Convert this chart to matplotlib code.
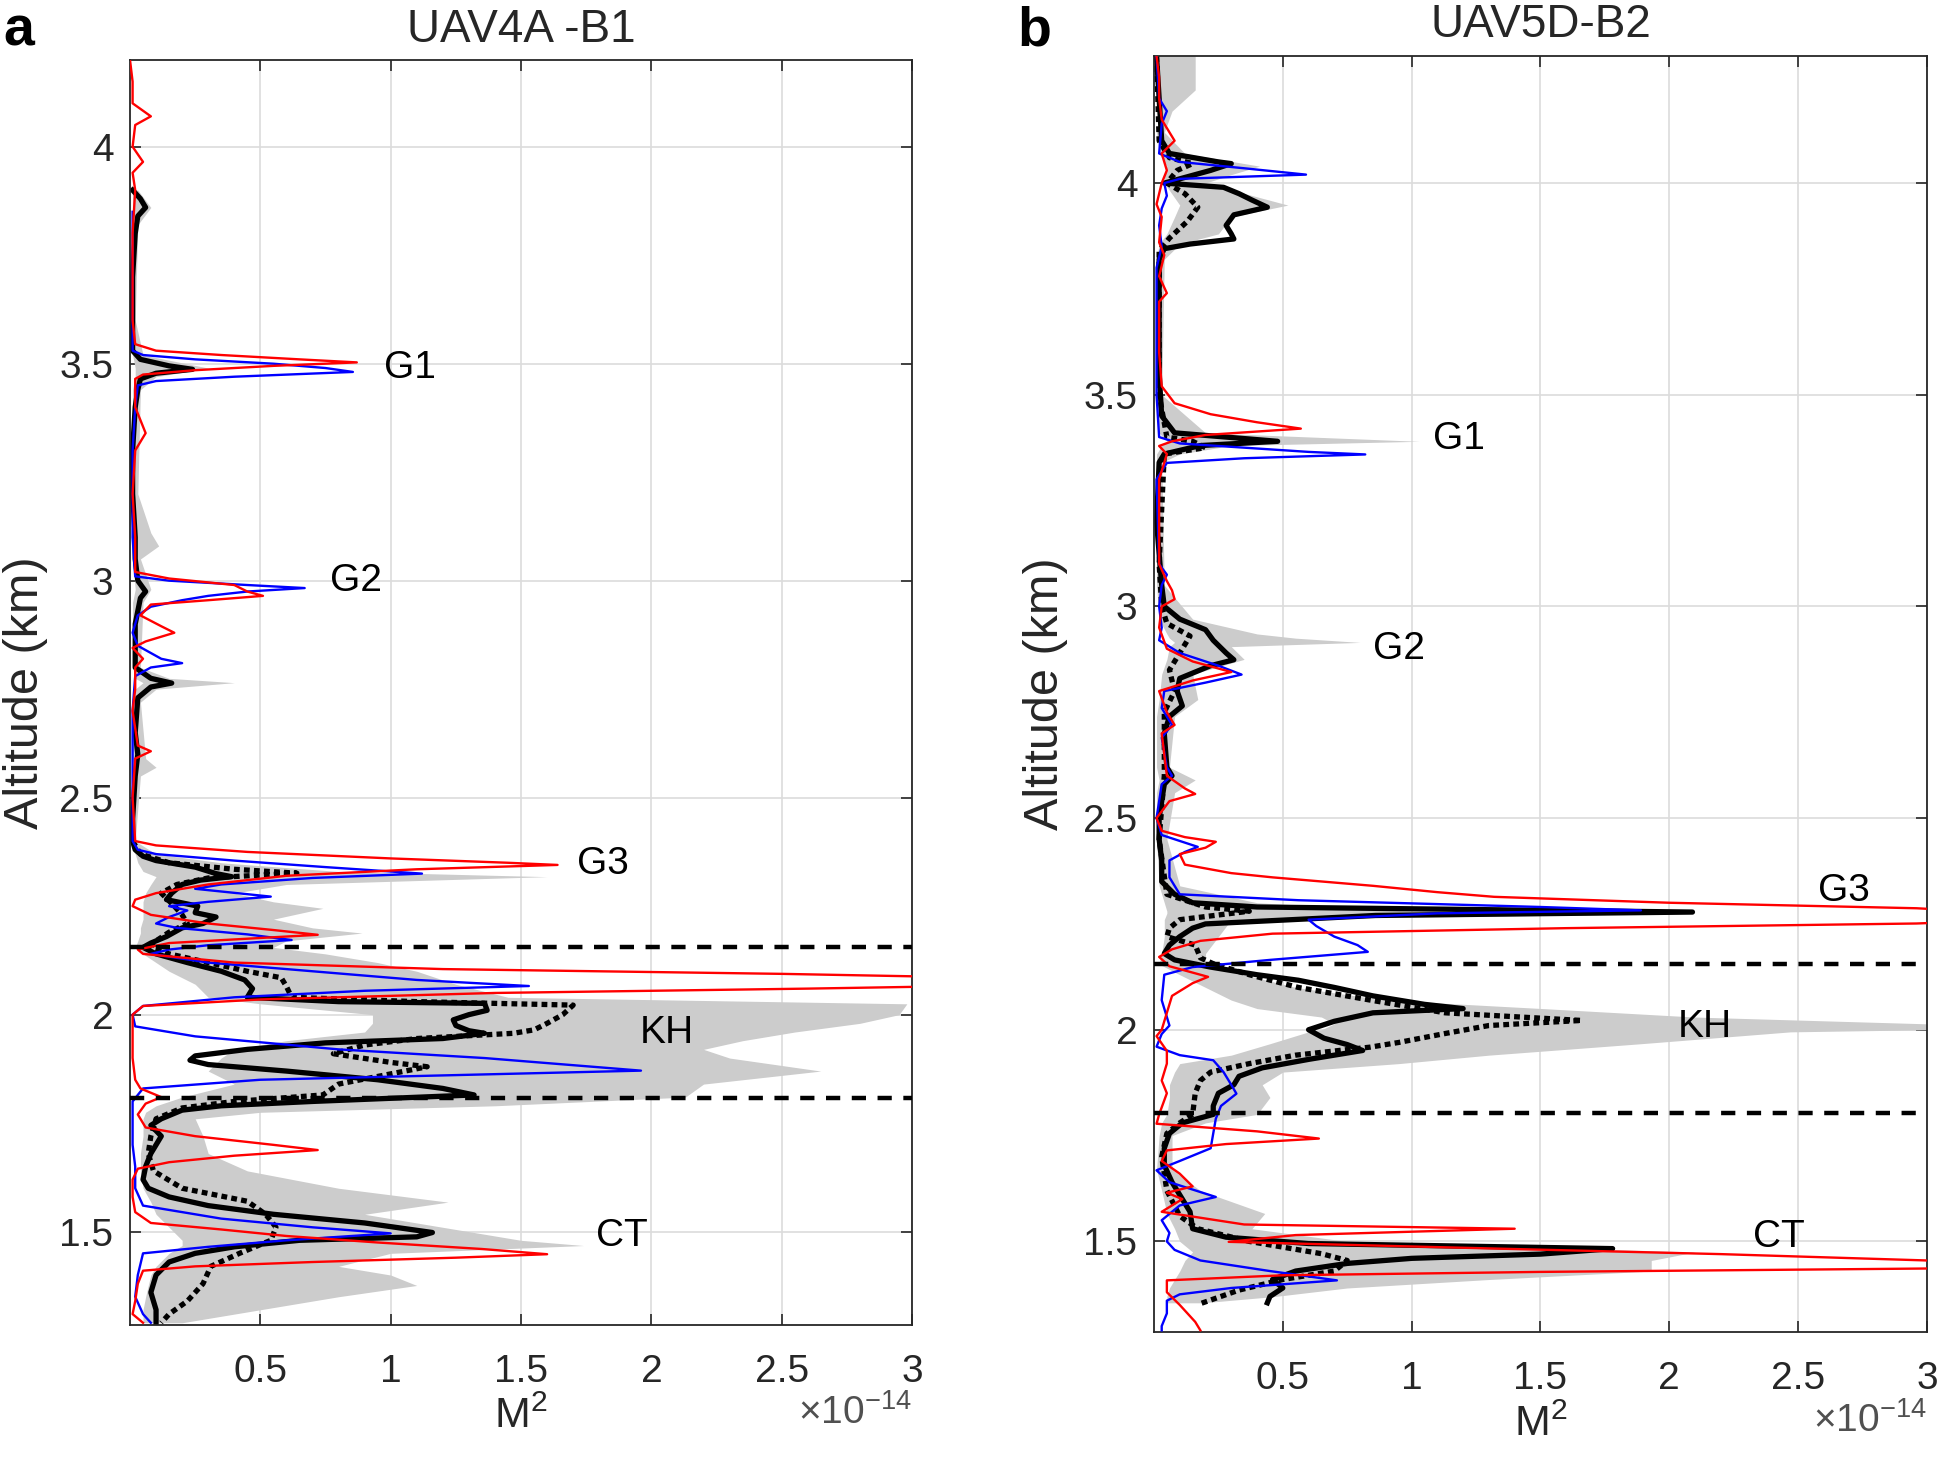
import matplotlib
matplotlib.use("Agg")
import matplotlib.pyplot as plt

plt.rcParams['font.family'] = ['Liberation Sans', 'DejaVu Sans']
plt.rcParams['mathtext.fontset'] = 'custom'
plt.rcParams['mathtext.rm'] = 'Liberation Sans'
plt.rcParams['mathtext.it'] = 'Liberation Sans:italic'

# ---------------- panel a : UAV4A -B1  (values in 1e-14) ----------------
a_gray_alt = [3.90, 3.86, 3.82, 3.60, 3.52, 3.49, 3.47, 3.44, 3.20, 3.11, 3.08, 3.05, 2.98, 2.95, 2.80,
              2.775, 2.765, 2.75, 2.72, 2.59, 2.57, 2.55, 2.40, 2.37, 2.35, 2.33, 2.318, 2.30, 2.28, 2.26,
              2.245, 2.22, 2.20, 2.188, 2.17, 2.155, 2.14, 2.12, 2.10, 2.07, 2.04, 2.025, 2.00, 1.98, 1.96,
              1.94, 1.92, 1.90, 1.87, 1.84, 1.81, 1.79, 1.775, 1.76, 1.72, 1.68, 1.64, 1.60, 1.568, 1.54,
              1.51, 1.48, 1.468, 1.45, 1.42, 1.40, 1.376, 1.35, 1.32, 1.29]
a_gray_lo = [0.01, 0.01, 0.01, 0.00, 0.01, 0.02, 0.02, 0.01, 0.01, 0.01, 0.01, 0.01, 0.02, 0.01, 0.01,
             0.02, 0.05, 0.02, 0.01, 0.01, 0.02, 0.01, 0.00, 0.02, 0.03, 0.05, 0.10, 0.08, 0.06, 0.05,
             0.05, 0.05, 0.04, 0.04, 0.03, 0.02, 0.05, 0.10, 0.15, 0.25, 0.30, 0.50, 0.93, 0.93, 0.90,
             0.60, 0.40, 0.35, 0.30, 0.40, 0.20, 0.10, 0.06, 0.05, 0.05, 0.04, 0.04, 0.05, 0.08, 0.10,
             0.15, 0.20, 0.20, 0.15, 0.10, 0.08, 0.07, 0.06, 0.05, 0.05]
a_gray_hi = [0.03, 0.08, 0.03, 0.02, 0.05, 0.30, 0.10, 0.04, 0.03, 0.08, 0.11, 0.04, 0.08, 0.05, 0.04,
             0.15, 0.40, 0.10, 0.04, 0.06, 0.10, 0.04, 0.02, 0.10, 0.35, 0.80, 1.60, 0.60, 0.40, 0.55,
             0.74, 0.55, 0.70, 0.89, 0.60, 0.55, 0.75, 0.95, 1.10, 1.25, 1.45, 2.98, 2.95, 2.80, 2.55,
             2.35, 2.20, 2.30, 2.65, 2.20, 2.13, 1.40, 0.50, 0.25, 0.28, 0.30, 0.45, 0.80, 1.22, 0.90,
             1.20, 1.50, 1.74, 1.00, 0.80, 1.00, 1.10, 0.80, 0.50, 0.20]

a_black_alt = [3.90, 3.88, 3.86, 3.84, 3.80, 3.70, 3.60, 3.53, 3.51, 3.495, 3.487, 3.478, 3.465, 3.44, 3.40,
               3.30, 3.20, 3.10, 3.05, 3.00, 2.975, 2.96, 2.90, 2.85, 2.80, 2.775, 2.764, 2.755, 2.73, 2.65,
               2.60, 2.55, 2.45, 2.40, 2.38, 2.365, 2.355, 2.34, 2.325, 2.318, 2.31, 2.30, 2.28, 2.265, 2.25,
               2.235, 2.225, 2.21, 2.20, 2.18, 2.165, 2.155, 2.14, 2.12, 2.10, 2.08, 2.06, 2.04, 2.03, 2.026,
               2.01, 2.00, 1.988, 1.975, 1.963, 1.957, 1.945, 1.935, 1.92, 1.905, 1.895, 1.885, 1.87, 1.85,
               1.83, 1.815, 1.80, 1.79, 1.78, 1.76, 1.745, 1.72, 1.70, 1.68, 1.65, 1.62, 1.60, 1.58, 1.56,
               1.54, 1.52, 1.498, 1.488, 1.48, 1.465, 1.45, 1.43, 1.40, 1.36, 1.32, 1.29]
a_black_m2 = [0.01, 0.04, 0.06, 0.03, 0.02, 0.01, 0.01, 0.01, 0.04, 0.15, 0.24, 0.10, 0.04, 0.03, 0.02,
              0.01, 0.01, 0.02, 0.02, 0.03, 0.06, 0.04, 0.02, 0.02, 0.02, 0.08, 0.16, 0.08, 0.03, 0.02,
              0.03, 0.02, 0.01, 0.01, 0.02, 0.05, 0.10, 0.25, 0.33, 0.39, 0.27, 0.20, 0.16, 0.14, 0.26,
              0.25, 0.33, 0.28, 0.20, 0.14, 0.08, 0.05, 0.10, 0.22, 0.35, 0.44, 0.47, 0.45, 0.80, 1.36,
              1.37, 1.30, 1.24, 1.25, 1.30, 1.36, 1.20, 0.75, 0.45, 0.25, 0.23, 0.30, 0.60, 0.95,
              1.20, 1.32, 0.70, 0.35, 0.20, 0.12, 0.08, 0.12, 0.10, 0.08, 0.06, 0.05, 0.07, 0.15, 0.30,
              0.55, 0.90, 1.16, 1.10, 0.65, 0.40, 0.25, 0.15, 0.10, 0.08, 0.10, 0.10]

a_dot_alt = [2.40, 2.37, 2.35, 2.335, 2.326, 2.315, 2.30, 2.28, 2.25, 2.23, 2.21, 2.19, 2.17, 2.157, 2.14,
             2.12, 2.10, 2.085, 2.065, 2.04, 2.03, 2.022, 2.00, 1.98, 1.965, 1.957, 1.945, 1.93, 1.91, 1.89,
             1.88, 1.86, 1.84, 1.815, 1.80, 1.785, 1.76, 1.72, 1.68, 1.64, 1.60, 1.57, 1.54, 1.51, 1.48,
             1.45, 1.42, 1.38, 1.34, 1.31, 1.29]
a_dot_m2 = [0.01, 0.04, 0.15, 0.40, 0.64, 0.30, 0.18, 0.12, 0.17, 0.20, 0.22, 0.15, 0.10, 0.08, 0.15,
            0.30, 0.45, 0.58, 0.60, 0.62, 1.10, 1.70, 1.66, 1.60, 1.55, 1.47, 1.10, 0.90, 0.78, 1.00,
            1.14, 0.97, 0.80, 0.74, 0.40, 0.20, 0.10, 0.08, 0.07, 0.09, 0.20, 0.45, 0.52, 0.56, 0.54,
            0.42, 0.31, 0.28, 0.22, 0.15, 0.12]

a_blue_alt = [3.85, 3.70, 3.60, 3.53, 3.52, 3.51, 3.50, 3.49, 3.481, 3.47, 3.46, 3.45, 3.40, 3.30, 3.10,
              3.01, 3.00, 2.99, 2.983, 2.975, 2.965, 2.955, 2.94, 2.92, 2.88, 2.85, 2.82, 2.81, 2.80, 2.78,
              2.70, 2.50, 2.40, 2.38, 2.37, 2.355, 2.34, 2.325, 2.315, 2.30, 2.29, 2.272, 2.26, 2.25, 2.24,
              2.225, 2.21, 2.20, 2.185, 2.172, 2.16, 2.15, 2.14, 2.12, 2.10, 2.08, 2.066, 2.055, 2.04, 2.02,
              2.00, 1.973, 1.95, 1.92, 1.90, 1.871, 1.86, 1.85, 1.83, 1.80, 1.70, 1.65, 1.60, 1.56, 1.53,
              1.51, 1.496, 1.48, 1.465, 1.45, 1.40, 1.35, 1.31, 1.29]
a_blue_m2 = [0.01, 0.01, 0.01, 0.01, 0.05, 0.25, 0.55, 0.75, 0.855, 0.40, 0.10, 0.03, 0.02, 0.01, 0.01,
             0.02, 0.15, 0.45, 0.67, 0.45, 0.30, 0.20, 0.08, 0.03, 0.01, 0.03, 0.12, 0.20, 0.08, 0.02,
             0.01, 0.01, 0.01, 0.03, 0.10, 0.40, 0.75, 1.12, 0.70, 0.35, 0.25, 0.54, 0.30, 0.15, 0.22,
             0.15, 0.10, 0.18, 0.45, 0.62, 0.30, 0.15, 0.08, 0.30, 0.70, 1.10, 1.53, 0.90, 0.40, 0.05,
             0.01, 0.02, 0.25, 0.80, 1.36, 1.96, 1.20, 0.50, 0.05, 0.01, 0.01, 0.02, 0.02, 0.05, 0.35,
             0.70, 1.00, 0.60, 0.30, 0.05, 0.03, 0.02, 0.05, 0.08]

a_red_alt = [4.20, 4.15, 4.10, 4.07, 4.05, 4.00, 3.965, 3.94, 3.90, 3.80, 3.70, 3.60, 3.545, 3.53, 3.52,
             3.51, 3.503, 3.495, 3.485, 3.475, 3.465, 3.40, 3.34, 3.30, 3.20, 3.10, 3.02, 3.005, 2.99, 2.975,
             2.965, 2.955, 2.945, 2.92, 2.895, 2.88, 2.86, 2.845, 2.82, 2.80, 2.75, 2.70, 2.62, 2.607, 2.59,
             2.50, 2.40, 2.39, 2.375, 2.36, 2.35, 2.345, 2.335, 2.32, 2.30, 2.28, 2.265, 2.25, 2.23, 2.21,
             2.195, 2.184, 2.175, 2.165, 2.15, 2.14, 2.12, 2.105, 2.094, 2.085, 2.075, 2.065, 2.06, 2.05,
             2.035, 2.02, 2.00, 1.95, 1.90, 1.85, 1.83, 1.81, 1.795, 1.77, 1.74, 1.72, 1.70, 1.688, 1.675,
             1.66, 1.645, 1.62, 1.58, 1.545, 1.52, 1.505, 1.49, 1.475, 1.46, 1.448, 1.44, 1.43, 1.42, 1.41,
             1.38, 1.34, 1.31, 1.29]
a_red_m2 = [0.00, 0.01, 0.01, 0.08, 0.02, 0.01, 0.05, 0.01, 0.02, 0.01, 0.01, 0.01, 0.02, 0.10, 0.35,
            0.65, 0.87, 0.55, 0.25, 0.05, 0.02, 0.02, 0.06, 0.02, 0.01, 0.02, 0.02, 0.15, 0.40, 0.45,
            0.51, 0.30, 0.08, 0.04, 0.12, 0.17, 0.06, 0.01, 0.05, 0.02, 0.02, 0.01, 0.03, 0.08, 0.02,
            0.01, 0.02, 0.10, 0.45, 1.00, 1.45, 1.64, 1.10, 0.60, 0.30, 0.10, 0.02, 0.01, 0.08, 0.30,
            0.55, 0.72, 0.45, 0.15, 0.03, 0.05, 0.40, 1.20, 2.50, 3.30, 3.50, 3.10, 2.60, 1.40,
            0.50, 0.05, 0.01, 0.01, 0.01, 0.02, 0.04, 0.12, 0.06, 0.03, 0.06, 0.25, 0.55, 0.72, 0.40,
            0.15, 0.03, 0.01, 0.01, 0.02, 0.08, 0.35, 0.60, 0.95, 1.35, 1.60, 1.25, 0.70, 0.25, 0.05,
            0.03, 0.02, 0.01, 0.05]

a_layers = [2.157, 1.809]
a_labels = ['G1', 'G2', 'G3', 'KH', 'CT']
a_label_x = [0.976, 0.767, 1.714, 1.957, 1.786]
a_label_y = [3.491, 3.0, 2.346, 1.957, 1.489]

# ---------------- panel b : UAV5D-B2 ----------------
b_gray_alt = [4.30, 4.22, 4.17, 4.12, 4.07, 4.04, 4.02, 4.00, 3.948, 3.92, 3.88, 3.856, 3.82, 3.50, 3.41,
              3.39, 3.38, 3.36, 3.34, 3.05, 2.97, 2.935, 2.925, 2.915, 2.905, 2.875, 2.84, 2.78, 2.74, 2.62,
              2.59, 2.56, 2.45, 2.34, 2.30, 2.28, 2.275, 2.26, 2.22, 2.18, 2.155, 2.13, 2.10, 2.07, 2.05,
              2.03, 2.014, 2.00, 1.995, 1.967, 1.94, 1.92, 1.90, 1.87, 1.84, 1.80, 1.78, 1.75, 1.67, 1.62,
              1.566, 1.53, 1.50, 1.475, 1.455, 1.43, 1.41, 1.39, 1.37, 1.355]
b_gray_lo = [0.02, 0.02, 0.02, 0.01, 0.02, 0.05, 0.04, 0.04, 0.10, 0.08, 0.05, 0.02, 0.01, 0.01, 0.02,
             0.05, 0.03, 0.01, 0.01, 0.01, 0.02, 0.05, 0.06, 0.08, 0.06, 0.05, 0.03, 0.02, 0.01, 0.01,
             0.02, 0.01, 0.01, 0.02, 0.04, 0.05, 0.05, 0.04, 0.04, 0.03, 0.02, 0.10, 0.20, 0.30, 0.40,
             0.65, 0.70, 0.65, 0.60, 0.45, 0.30, 0.10, 0.08, 0.06, 0.06, 0.05, 0.03, 0.02, 0.01, 0.03,
             0.05, 0.08, 0.10, 0.15, 0.12, 0.10, 0.08, 0.06, 0.05, 0.05]
b_gray_hi = [0.16, 0.16, 0.07, 0.04, 0.12, 0.41, 0.30, 0.20, 0.52, 0.30, 0.25, 0.10, 0.04, 0.03, 0.20,
             1.03, 0.30, 0.10, 0.03, 0.04, 0.15, 0.40, 0.55, 0.80, 0.30, 0.35, 0.15, 0.17, 0.08, 0.06,
             0.16, 0.08, 0.05, 0.10, 0.40, 1.00, 2.10, 0.30, 0.25, 0.20, 0.20, 0.35, 0.55, 0.90, 1.51,
             2.10, 3.00, 3.00, 2.47, 1.89, 1.30, 0.95, 0.50, 0.42, 0.45, 0.40, 0.20, 0.07, 0.07, 0.18,
             0.43, 0.38, 0.75, 2.10, 1.93, 1.93, 1.30, 0.75, 0.47, 0.19]

b_black_alt = [4.30, 4.20, 4.10, 4.07, 4.05, 4.046, 4.03, 4.01, 4.00, 3.99, 3.975, 3.96, 3.943, 3.925, 3.90,
               3.88, 3.868, 3.856, 3.845, 3.82, 3.70, 3.55, 3.45, 3.41, 3.39, 3.38, 3.36, 3.34, 3.20, 3.05,
               3.00, 2.97, 2.945, 2.92, 2.89, 2.874, 2.86, 2.83, 2.80, 2.765, 2.74, 2.70, 2.62, 2.60, 2.58,
               2.50, 2.45, 2.40, 2.35, 2.32, 2.30, 2.29, 2.278, 2.27, 2.262, 2.25, 2.24, 2.22, 2.20, 2.18,
               2.165, 2.148, 2.13, 2.117, 2.10, 2.08, 2.06, 2.05, 2.04, 2.02, 2.00, 1.98, 1.965, 1.951, 1.93,
               1.91, 1.89, 1.87, 1.85, 1.82, 1.80, 1.78, 1.755, 1.72, 1.68, 1.64, 1.60, 1.57, 1.53, 1.51,
               1.495, 1.483, 1.47, 1.46, 1.448, 1.43, 1.41, 1.39, 1.37, 1.355]
b_black_m2 = [0.01, 0.02, 0.03, 0.06, 0.25, 0.30, 0.22, 0.10, 0.04, 0.27, 0.33, 0.38, 0.44, 0.31, 0.28,
              0.30, 0.31, 0.14, 0.04, 0.02, 0.02, 0.02, 0.03, 0.08, 0.48, 0.18, 0.04, 0.02, 0.01, 0.03,
              0.04, 0.10, 0.20, 0.23, 0.28, 0.31, 0.22, 0.10, 0.09, 0.11, 0.06, 0.04, 0.05, 0.07, 0.04,
              0.02, 0.02, 0.03, 0.03, 0.08, 0.15, 0.40, 2.09, 0.86, 0.60, 0.20, 0.15, 0.10, 0.06, 0.04,
              0.08, 0.22, 0.40, 0.56, 0.70, 0.85, 1.05, 1.20, 0.85, 0.70, 0.60, 0.66, 0.75, 0.81, 0.60,
              0.42, 0.33, 0.31, 0.25, 0.23, 0.23, 0.11, 0.06, 0.04, 0.04, 0.07, 0.11, 0.14, 0.15, 0.28,
              0.60, 1.78, 1.50, 1.00, 0.75, 0.55, 0.46, 0.50, 0.45, 0.44]

b_dot_alt = [4.30, 4.10, 4.06, 4.046, 4.03, 4.00, 3.975, 3.943, 3.91, 3.87, 3.84, 3.50, 3.40, 3.39, 3.375,
             3.36, 3.10, 3.00, 2.96, 2.93, 2.89, 2.85, 2.80, 2.75, 2.60, 2.45, 2.32, 2.29, 2.28, 2.26,
             2.24, 2.22, 2.20, 2.17, 2.156, 2.13, 2.10, 2.07, 2.04, 2.022, 2.01, 1.99, 1.97, 1.959, 1.94,
             1.92, 1.90, 1.88, 1.85, 1.80, 1.78, 1.755, 1.70, 1.62, 1.56, 1.53, 1.50, 1.471, 1.455, 1.43,
             1.41, 1.385, 1.353]
b_dot_m2 = [0.01, 0.02, 0.06, 0.15, 0.09, 0.05, 0.12, 0.17, 0.13, 0.06, 0.02, 0.02, 0.05, 0.15, 0.20,
            0.04, 0.02, 0.03, 0.05, 0.14, 0.10, 0.06, 0.08, 0.04, 0.04, 0.02, 0.05, 0.20, 0.37, 0.10,
            0.06, 0.05, 0.16, 0.18, 0.23, 0.37, 0.56, 0.84, 1.13, 1.66, 1.30, 1.12, 0.95, 0.84, 0.55,
            0.37, 0.22, 0.18, 0.16, 0.15, 0.10, 0.05, 0.03, 0.05, 0.10, 0.17, 0.37, 0.65, 0.75, 0.70,
            0.50, 0.33, 0.18]

b_blue_alt = [4.30, 4.20, 4.17, 4.14, 4.07, 4.05, 4.035, 4.02, 4.01, 4.00, 3.97, 3.94, 3.90, 3.85, 3.80,
              3.60, 3.50, 3.40, 3.385, 3.375, 3.365, 3.359, 3.35, 3.339, 3.30, 3.10, 3.075, 3.05, 3.00, 2.95,
              2.92, 2.89, 2.86, 2.839, 2.82, 2.80, 2.76, 2.72, 2.69, 2.62, 2.60, 2.58, 2.50, 2.46, 2.432,
              2.42, 2.40, 2.36, 2.32, 2.306, 2.29, 2.282, 2.275, 2.26, 2.245, 2.22, 2.20, 2.184, 2.165, 2.148,
              2.13, 2.07, 2.01, 1.99, 1.96, 1.94, 1.928, 1.90, 1.87, 1.849, 1.82, 1.79, 1.755, 1.72, 1.69,
              1.668, 1.64, 1.605, 1.585, 1.55, 1.52, 1.50, 1.48, 1.455, 1.43, 1.408, 1.39, 1.375, 1.36, 1.33,
              1.30, 1.29]
b_blue_m2 = [0.01, 0.02, 0.05, 0.03, 0.02, 0.10, 0.35, 0.59, 0.10, 0.04, 0.05, 0.03, 0.02, 0.03, 0.01,
             0.01, 0.01, 0.02, 0.10, 0.35, 0.60, 0.82, 0.35, 0.05, 0.01, 0.02, 0.05, 0.03, 0.02, 0.03,
             0.02, 0.10, 0.25, 0.34, 0.20, 0.04, 0.03, 0.07, 0.03, 0.05, 0.07, 0.03, 0.01, 0.03, 0.17,
             0.12, 0.06, 0.06, 0.10, 0.56, 1.50, 1.89, 1.10, 0.60, 0.63, 0.70, 0.79, 0.83, 0.45, 0.15,
             0.04, 0.03, 0.06, 0.03, 0.01, 0.10, 0.23, 0.27, 0.30, 0.32, 0.26, 0.24, 0.23, 0.22, 0.10,
             0.01, 0.06, 0.24, 0.10, 0.03, 0.06, 0.05, 0.08, 0.18, 0.45, 0.71, 0.30, 0.10, 0.05, 0.05,
             0.03, 0.03]

b_red_alt = [4.30, 4.25, 4.20, 4.15, 4.10, 4.07, 4.03, 4.00, 3.95, 3.92, 3.86, 3.83, 3.78, 3.74, 3.72,
             3.60, 3.52, 3.48, 3.454, 3.435, 3.42, 3.405, 3.39, 3.379, 3.36, 3.30, 3.10, 3.06, 3.038, 3.017,
             3.00, 2.95, 2.90, 2.87, 2.845, 2.825, 2.80, 2.75, 2.72, 2.70, 2.60, 2.57, 2.557, 2.54, 2.50,
             2.47, 2.455, 2.444, 2.43, 2.415, 2.39, 2.37, 2.36, 2.34, 2.325, 2.314, 2.30, 2.287, 2.266,
             2.251, 2.24, 2.227, 2.21, 2.19, 2.172, 2.15, 2.125, 2.11, 2.08, 2.04, 2.00, 1.985, 1.95, 1.92,
             1.88, 1.85, 1.80, 1.778, 1.76, 1.743, 1.73, 1.715, 1.69, 1.66, 1.63, 1.615, 1.60, 1.57, 1.54,
             1.53, 1.515, 1.499, 1.485, 1.47, 1.455, 1.445, 1.436, 1.428, 1.42, 1.408, 1.38, 1.35, 1.33,
             1.31, 1.29]
b_red_m2 = [0.01, 0.02, 0.02, 0.03, 0.08, 0.03, 0.05, 0.03, 0.01, 0.03, 0.02, 0.04, 0.02, 0.05, 0.02,
            0.02, 0.03, 0.08, 0.22, 0.40, 0.57, 0.20, 0.07, 0.02, 0.05, 0.02, 0.02, 0.05, 0.07, 0.08,
            0.03, 0.02, 0.05, 0.15, 0.30, 0.15, 0.02, 0.05, 0.08, 0.03, 0.05, 0.12, 0.16, 0.06, 0.01,
            0.03, 0.12, 0.24, 0.20, 0.10, 0.12, 0.30, 0.46, 0.85, 1.10, 1.32, 2.00, 2.96, 3.60,
            2.96, 1.60, 0.46, 0.18, 0.07, 0.02, 0.06, 0.21, 0.15, 0.07, 0.05, 0.03, 0.01, 0.05, 0.05,
            0.03, 0.05, 0.02, 0.01, 0.40, 0.64, 0.28, 0.05, 0.03, 0.10, 0.15, 0.05, 0.11, 0.03, 0.35,
            1.40, 0.55, 0.29, 1.20, 2.20, 3.00, 3.60, 3.00, 1.50, 0.50, 0.05, 0.05, 0.10, 0.13,
            0.16, 0.18]

b_layers = [2.155, 1.804]
b_labels = ['G1', 'G2', 'G3', 'KH', 'CT']
b_label_x = [1.083, 0.852, 2.576, 2.032, 2.325]
b_label_y = [3.396, 2.90, 2.328, 2.006, 1.51]

ink = '#262626'

fig = plt.figure(figsize=(19.46, 14.72), dpi=100)
ax_a = fig.add_axes([0.0668, 0.0999, 0.4019, 0.8594])
ax_b = fig.add_axes([0.5930, 0.0951, 0.3972, 0.8668])


def draw_panel(ax, gray, black, dot, blue, red, layers, labels, lx, ly, ylim, title, ylab_x):
    ax.fill_betweenx(gray[0], gray[1], gray[2], color='0.8', linewidth=0, zorder=1)
    ax.plot(black[1], black[0], color='k', lw=3.8, zorder=2)
    ax.plot(dot[1], dot[0], color='k', lw=3.8, linestyle=(0, (1.1, 0.8)), zorder=2)
    ax.plot(blue[1], blue[0], color='#0000ff', lw=1.7, zorder=3)
    ax.plot(red[1], red[0], color='#ff0000', lw=1.7, zorder=4)
    for h in layers:
        ax.axhline(h, color='k', lw=3.2, linestyle=(0, (3.2, 2.6)), zorder=5)
    for t, x, y in zip(labels, lx, ly):
        ax.text(x, y, t, fontsize=28, ha='left', va='center', color='k', zorder=6)

    ax.set_xlim(0, 3)
    ax.set_ylim(*ylim)
    ax.set_xticks([0.5, 1, 1.5, 2, 2.5, 3])
    ax.set_xticklabels(['0.5', '1', '1.5', '2', '2.5', '3'])
    ax.set_yticks([1.5, 2, 2.5, 3, 3.5, 4])
    ax.set_yticklabels(['1.5', '2', '2.5', '3', '3.5', '4'])
    ax.grid(True, color='#dcdcdc', lw=1.2)
    ax.set_axisbelow(True)
    ax.tick_params(direction='in', length=8, width=1.2, colors=ink, labelsize=28,
                   top=True, right=True)
    ax.tick_params(axis='x', pad=21)
    ax.tick_params(axis='y', pad=12)
    for s in ax.spines.values():
        s.set_color(ink)
        s.set_linewidth(1.3)

    ax.text(0.5, 1.024, title, transform=ax.transAxes, ha='center', va='center',
            fontsize=33, color=ink)
    ax.text(ylab_x, 0.5, 'Altitude (km)', transform=ax.transAxes, rotation=90,
            ha='center', va='center', fontsize=35, color=ink)
    ax.text(0.5, -0.073, 'M$^{2}$', transform=ax.transAxes, ha='center', va='center',
            fontsize=31, color=ink)
    ax.text(1.0, -0.070, r'$\times$10$^{-14}$', transform=ax.transAxes, ha='right', va='center',
            fontsize=28, color='#505050')


draw_panel(ax_a, (a_gray_alt, a_gray_lo, a_gray_hi), (a_black_alt, a_black_m2), (a_dot_alt, a_dot_m2),
           (a_blue_alt, a_blue_m2), (a_red_alt, a_red_m2), a_layers, a_labels, a_label_x, a_label_y,
           (1.285, 4.2), 'UAV4A -B1', -0.134)
draw_panel(ax_b, (b_gray_alt, b_gray_lo, b_gray_hi), (b_black_alt, b_black_m2), (b_dot_alt, b_dot_m2),
           (b_blue_alt, b_blue_m2), (b_red_alt, b_red_m2), b_layers, b_labels, b_label_x, b_label_y,
           (1.286, 4.3), 'UAV5D-B2', -0.140)

fig.text(19 / 1946, 1 - 32 / 1472, 'a', fontsize=40, fontweight='bold', ha='center', va='center')
fig.text(1034 / 1946, 1 - 32 / 1472, 'b', fontsize=40, fontweight='bold', ha='center', va='center')

fig.savefig('out.png', dpi=100)
